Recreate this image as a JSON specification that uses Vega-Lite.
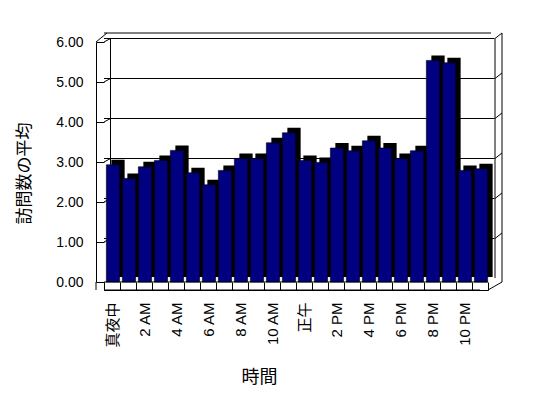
{
  "$schema": "https://vega.github.io/schema/vega-lite/v6.json",
  "width": 384,
  "height": 240,
  "autosize": "none",
  "padding": {"left": 104, "top": 42, "right": 60, "bottom": 116},
  "background": "white",
  "config": {
    "view": {"stroke": null},
    "font": "Liberation Sans, Noto Sans CJK JP",
    "axis": {"domainColor": "black", "tickColor": "black", "labelColor": "black", "titleColor": "black", "titleFontWeight": "normal", "grid": false}
  },
  "resolve": {"axis": {"x": "independent", "y": "independent"}},
  "data": {"values": [{}]},
  "datasets": {
    "visits": [
      {"hour": "真夜中", "visits": 2.93},
      {"hour": "1 AM", "visits": 2.59},
      {"hour": "2 AM", "visits": 2.88},
      {"hour": "3 AM", "visits": 3.04},
      {"hour": "4 AM", "visits": 3.29},
      {"hour": "5 AM", "visits": 2.73},
      {"hour": "6 AM", "visits": 2.43},
      {"hour": "7 AM", "visits": 2.79},
      {"hour": "8 AM", "visits": 3.09},
      {"hour": "9 AM", "visits": 3.09},
      {"hour": "10 AM", "visits": 3.48},
      {"hour": "11 AM", "visits": 3.73},
      {"hour": "正午", "visits": 3.04},
      {"hour": "1 PM", "visits": 2.99},
      {"hour": "2 PM", "visits": 3.35},
      {"hour": "3 PM", "visits": 3.28},
      {"hour": "4 PM", "visits": 3.53},
      {"hour": "5 PM", "visits": 3.35},
      {"hour": "6 PM", "visits": 3.09},
      {"hour": "7 PM", "visits": 3.28},
      {"hour": "8 PM", "visits": 5.54},
      {"hour": "9 PM", "visits": 5.48},
      {"hour": "10 PM", "visits": 2.79},
      {"hour": "11 PM", "visits": 2.83}
    ],
    "levels": [{"v": 1}, {"v": 2}, {"v": 3}, {"v": 4}, {"v": 5}, {"v": 6}]
  },
  "layer": [
    {
      "data": {"name": "levels"},
      "mark": {"type": "rule", "color": "black", "xOffset": 6.5, "x2Offset": 7, "yOffset": -3.5},
      "encoding": {
        "y": {"field": "v", "type": "quantitative", "axis": null}
      }
    },
    {
      "data": {"name": "levels"},
      "mark": {"type": "rule", "color": "black", "xOffset": -8, "x2Offset": -1.5, "y2Offset": -3.5},
      "encoding": {
        "x": {"datum": "真夜中", "type": "nominal", "axis": null},
        "x2": {"datum": "真夜中"},
        "y": {"field": "v", "type": "quantitative", "axis": null},
        "y2": {"field": "v"}
      }
    },
    {
      "data": {"name": "levels"},
      "mark": {"type": "rule", "color": "black", "xOffset": 15, "x2Offset": 22, "yOffset": -3.5, "y2Offset": -9},
      "encoding": {
        "x": {"datum": "11 PM", "type": "nominal", "axis": null},
        "x2": {"datum": "11 PM"},
        "y": {"field": "v", "type": "quantitative", "axis": null},
        "y2": {"field": "v"}
      }
    },
    {
      "mark": {"type": "rule", "color": "black", "xOffset": 3, "x2Offset": 14, "yOffset": -9},
      "encoding": {"y": {"datum": 6, "type": "quantitative", "axis": null}}
    },
    {
      "mark": {"type": "rule", "color": "black", "xOffset": -1.5, "yOffset": -3.5},
      "encoding": {
        "x": {"datum": "真夜中", "type": "nominal", "axis": null},
        "y": {"datum": 6, "type": "quantitative", "axis": null},
        "y2": {"datum": 0}
      }
    },
    {
      "mark": {"type": "rule", "color": "black", "xOffset": 15, "yOffset": -3.5, "y2Offset": -4},
      "encoding": {
        "x": {"datum": "11 PM", "type": "nominal", "axis": null},
        "y": {"datum": 6, "type": "quantitative", "axis": null},
        "y2": {"datum": 0}
      }
    },
    {
      "mark": {"type": "rule", "color": "black", "xOffset": 22, "yOffset": -9},
      "encoding": {
        "x": {"datum": "11 PM", "type": "nominal", "axis": null},
        "y": {"datum": 6, "type": "quantitative", "axis": null},
        "y2": {"datum": 0}
      }
    },
    {
      "mark": {"type": "rule", "color": "black", "xOffset": -16, "x2Offset": -5, "y2Offset": -9},
      "encoding": {
        "x": {"datum": "真夜中", "type": "nominal", "axis": null},
        "x2": {"datum": "真夜中"},
        "y": {"datum": 6, "type": "quantitative", "axis": null},
        "y2": {"datum": 6}
      }
    },
    {
      "mark": {"type": "rule", "color": "black", "xOffset": 8, "x2Offset": 22, "yOffset": 8},
      "encoding": {
        "x": {"datum": "11 PM", "type": "nominal", "axis": null},
        "x2": {"datum": "11 PM"},
        "y": {"datum": 0, "type": "quantitative", "axis": null},
        "y2": {"datum": 0}
      }
    },
    {
      "mark": {"type": "rule", "color": "black", "xOffset": -16, "y2Offset": 8},
      "encoding": {
        "x": {"datum": "真夜中", "type": "nominal", "axis": null},
        "y": {"datum": 0, "type": "quantitative", "axis": null},
        "y2": {"datum": 0}
      }
    },
    {
      "mark": {"type": "rule", "color": "black", "xOffset": -8, "yOffset": 8},
      "encoding": {"y": {"datum": 0, "type": "quantitative", "axis": null}}
    },
    {
      "data": {"name": "visits"},
      "mark": {"type": "bar", "color": "black", "width": {"band": 0.83}, "xOffset": 6, "yOffset": -5, "y2Offset": -5},
      "encoding": {
        "x": {"field": "hour", "type": "nominal", "axis": null},
        "y": {"field": "visits", "type": "quantitative", "axis": null}
      }
    },
    {
      "data": {"name": "visits"},
      "mark": {"type": "bar", "color": "#000080", "stroke": "black", "strokeWidth": 0.6, "width": {"band": 0.83}, "xOffset": 1},
      "encoding": {
        "x": {
          "field": "hour",
          "type": "nominal",
          "sort": null,
          "scale": {
            "domain": ["真夜中", "1 AM", "2 AM", "3 AM", "4 AM", "5 AM", "6 AM", "7 AM", "8 AM", "9 AM", "10 AM", "11 AM", "正午", "1 PM", "2 PM", "3 PM", "4 PM", "5 PM", "6 PM", "7 PM", "8 PM", "9 PM", "10 PM", "11 PM"],
            "paddingInner": 0,
            "paddingOuter": 0
          },
          "axis": {
            "title": "時間",
            "titleFontSize": 18,
            "titleFont": "Noto Sans CJK JP",
            "titleX": 155,
            "titleY": 87,
            "titleAlign": "center",
            "titleBaseline": "middle",
            "offset": 8,
            "tickSize": -8,
            "tickBand": "extent",
            "labelAngle": -90,
            "labelFontSize": 15,
            "labelPadding": 20,
            "labelExpr": "indexof(['真夜中','2 AM','4 AM','6 AM','8 AM','10 AM','正午','2 PM','4 PM','6 PM','8 PM','10 PM'], datum.value) >= 0 ? datum.label : ''"
          }
        },
        "y": {
          "field": "visits",
          "type": "quantitative",
          "scale": {"domain": [0, 6], "nice": false, "zero": true},
          "axis": {
            "title": "訪問数の平均",
            "titleFontSize": 17,
            "titleFont": "Noto Sans CJK JP",
            "titleX": -72,
            "titleY": 131,
            "titleAlign": "center",
            "titleBaseline": "middle",
            "values": [0, 1, 2, 3, 4, 5, 6],
            "format": ".2f",
            "offset": 8,
            "tickSize": -8,
            "labelFontSize": 14,
            "labelPadding": 21
          }
        }
      }
    },
    {
      "mark": {"type": "rule", "color": "black"},
      "encoding": {"y": {"datum": 0, "type": "quantitative", "axis": null}}
    }
  ]
}
